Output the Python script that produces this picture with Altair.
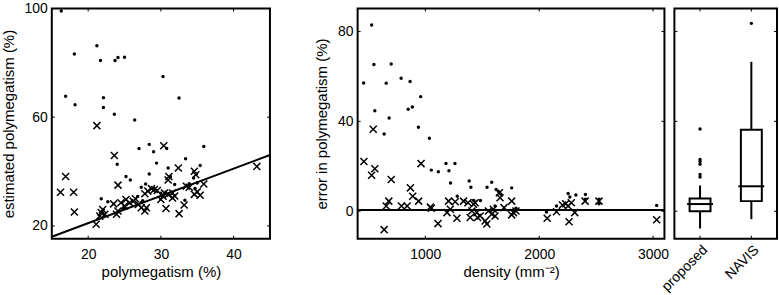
import altair as alt
import pandas as pd

FONT = "Liberation Sans"
XPATH = "M-1,-1L1,1M-1,1L1,-1"

# ---------------- panel 1 data ----------------
dot1_x = [16.3, 18.1, 21.2, 21.7, 23.7, 24.1, 25.0, 30.3, 16.9, 18.2, 22.1, 22.1, 23.6, 26.4,
          32.5, 27.0, 28.4, 29.0, 30.8, 35.9, 24.0, 29.4, 33.4, 28.4, 25.2, 25.8, 31.0, 31.3,
          31.9, 27.9, 27.3, 21.8, 22.7, 26.8, 35.4, 34.5, 35.0, 33.3, 33.9, 34.7, 30.0, 24.9, 27.5]
dot1_y = [99.1, 83.3, 86.3, 80.9, 80.9, 82.0, 82.1, 75.0, 67.7, 64.6, 67.2, 63.6, 61.1, 59.0,
          67.1, 48.5, 50.0, 47.3, 48.5, 49.2, 42.7, 43.1, 44.7, 39.1, 38.2, 36.9, 41.3, 38.2,
          35.2, 35.4, 34.2, 30.0, 28.9, 30.8, 42.2, 37.6, 35.8, 29.4, 35.5, 33.8, 32.0, 26.8, 29.3]
crs1_x = [16.2, 16.9, 18.0, 18.1, 21.2, 30.4, 23.6, 24.1, 31.1, 28.2, 28.7, 29.1, 27.8, 30.5,
          31.0, 31.6, 23.5, 25.2, 25.7, 25.0, 26.2, 26.9, 27.3, 27.8, 28.0, 21.8, 21.6, 22.3,
          21.1, 23.9, 24.1, 30.7, 30.0, 30.3, 43.2, 32.4, 34.6, 34.8, 33.5, 33.9, 35.9, 34.6,
          35.4, 35.0, 31.9, 31.6, 33.2, 32.5, 22.0, 29.5, 26.5, 24.5, 31.0]
crs1_y = [32.4, 38.2, 32.4, 25.1, 56.9, 49.5, 45.9, 35.0, 38.2, 32.8, 33.7, 33.4, 31.8, 32.1,
          31.6, 32.1, 28.1, 29.7, 28.5, 27.3, 29.1, 27.9, 26.7, 25.5, 26.7, 24.9, 23.6, 24.3,
          20.6, 24.3, 25.5, 26.4, 29.7, 30.9, 41.9, 41.3, 40.1, 38.8, 34.6, 34.2, 35.4, 31.6,
          31.3, 32.5, 31.0, 30.3, 27.7, 24.5, 26.0, 33.0, 30.0, 28.5, 36.9]
fit_x = [15, 45]
fit_y = [16.0, 46.1]
p1_xticks = [20, 30, 40]
p1_yticks = [20, 60, 100]

# ---------------- panel 2 data ----------------
dot2_x = [528, 548, 700, 458, 656, 787, 866, 959, 556, 849, 886, 682, 939, 638, 1035, 1052,
          1114, 1181, 1260, 1207, 1221, 1385, 1400, 1542, 1583, 1280, 1426, 1484, 1621, 1641,
          1662, 1758, 1612, 1773, 1796, 2064, 2152, 2254, 2269, 2322, 2406, 2406, 2525, 2525, 3032]
dot2_y = [82.9, 65.3, 65.5, 57.1, 57.0, 59.2, 57.7, 51.0, 44.7, 45.4, 46.4, 41.5, 37.4, 34.4,
          32.5, 18.3, 17.6, 21.2, 21.2, 18.0, 12.6, 13.5, 10.7, 10.7, 12.9, 6.7, 4.8, 4.8, 9.7,
          8.9, 7.7, 10.4, 2.3, 0.1, 1.3, -0.3, 2.3, 7.9, 6.3, 7.2, 7.5, 5.3, 5.3, 3.3, 2.6]
crs2_x = [542, 460, 556, 528, 700, 962, 869, 889, 941, 656, 679, 790, 840, 1044, 1052, 1204,
          1262, 1190, 1219, 1277, 1111, 638, 1335, 1374, 1409, 1452, 1481, 1525, 1540, 1423,
          1437, 1554, 1583, 1597, 1394, 1458, 1650, 1656, 1691, 1758, 1758, 1773, 1796, 1612,
          2070, 2152, 2204, 2233, 2282, 2254, 2262, 2312, 2403, 2525, 3032]
crs2_y = [36.5, 22.1, 18.9, 16.0, 14.1, 21.2, 10.4, 6.7, 4.5, 2.3, 4.5, 2.3, 2.3, 1.9, 1.3, 4.5,
          4.2, -0.6, 0.9, -3.1, -5.5, -8.2, 4.5, 3.8, 0.1, -0.6, -2.1, -4.3, -5.7, 3.1,
          3.8, 0.1, -1.3, 0.9, -2.8, -2.8, 8.2, 6.0, 1.6, 4.5, -1.6, -0.6, 0.1, -2.1,
          -3.1, -0.2, 2.8, 3.3, 3.8, 2.3, -4.7, -0.6, 4.5, 4.5, -3.8]
zero_x = [405, 3100]
zero_y = [0.6, 0.6]
p2_xticks = [1000, 2000, 3000]
p2_yticks = [0, 40, 80]

# ---------------- panel 3 data ----------------
box_cat = ["proposed", "NAVIS"]
box_lo = [-7.7, -3.5]
box_q1 = [0.0, 4.5]
box_med = [3.2, 11.1]
box_q3 = [5.7, 36.3]
box_hi = [11.5, 66.5]
out_cat = ["proposed"] * 6 + ["NAVIS"]
out_val = [15.2, 16.4, 20.9, 22.1, 23.0, 36.6, 83.6]

H = 231
W1, W2, W3 = 219, 308, 103
TK = 3  # inward tick length
DOT = 12
CROSS = 50


def ax_x(values, title, lp=8.5):
    return alt.Axis(values=values, title=title, labelPadding=lp, titlePadding=3.5, format="d")


def ax_y(values, title):
    return alt.Axis(values=values, title=title, labelPadding=4.5, titlePadding=8, format="d")


def scatter_panel(dx, dy, cx, cy, lx, ly, xdom, ydom, xt, yt, xtitle, ytitle, W):
    xs = alt.Scale(domain=xdom, nice=False, zero=False)
    ys = alt.Scale(domain=ydom, nice=False, zero=False)
    axx = ax_x(xt, xtitle)
    axy = ax_y(yt, ytitle)
    X = lambda f: alt.X(f, scale=xs, axis=axx)
    Y = lambda f: alt.Y(f, scale=ys, axis=axy)
    dots = alt.Chart(pd.DataFrame({"x": dx, "y": dy})).mark_point(
        shape="circle", filled=True, size=DOT, color="black", opacity=1
    ).encode(x=X("x:Q"), y=Y("y:Q"))
    crosses = alt.Chart(pd.DataFrame({"x": cx, "y": cy})).mark_point(
        shape=XPATH, filled=False, size=CROSS, stroke="black", strokeWidth=1.5, opacity=1
    ).encode(x=X("x:Q"), y=Y("y:Q"))
    line = alt.Chart(pd.DataFrame({"x": lx, "y": ly})).mark_line(
        color="black", strokeWidth=2
    ).encode(x=X("x:Q"), y=Y("y:Q"))
    tdx = pd.DataFrame({"x": xt})
    tdy = pd.DataFrame({"y": yt})
    tx_top = alt.Chart(tdx).mark_rule(color="black", strokeWidth=1).encode(
        x=X("x:Q"), y=alt.value(0), y2=alt.value(TK))
    tx_bot = alt.Chart(tdx).mark_rule(color="black", strokeWidth=1).encode(
        x=X("x:Q"), y=alt.value(H - TK), y2=alt.value(H))
    ty_l = alt.Chart(tdy).mark_rule(color="black", strokeWidth=1).encode(
        y=Y("y:Q"), x=alt.value(0), x2=alt.value(TK))
    ty_r = alt.Chart(tdy).mark_rule(color="black", strokeWidth=1).encode(
        y=Y("y:Q"), x=alt.value(W - TK), x2=alt.value(W))
    return alt.layer(dots, crosses, line, tx_top, tx_bot, ty_l, ty_r).properties(width=W, height=H)


p1 = scatter_panel(dot1_x, dot1_y, crs1_x, crs1_y, fit_x, fit_y, [15, 45], [15.3, 100],
                   p1_xticks, p1_yticks, "polymegatism (%)", "estimated polymegatism (%)", W1)
p2 = scatter_panel(dot2_x, dot2_y, crs2_x, crs2_y, zero_x, zero_y, [405, 3100], [-12.2, 90.2],
                   p2_xticks, p2_yticks, "density (mm\u207b\u00b2)", "error in polymegatism (%)", W2)

# ---------------- panel 3: box plot ----------------
xs3 = alt.Scale(type="point", padding=0.5, domain=box_cat)
ys3 = alt.Scale(domain=[-12.2, 90.2], nice=False, zero=False)
ax3 = alt.Axis(title=None, labelAngle=315, labelAlign="right", labelBaseline="top", labelPadding=4)
X3 = alt.X("cat:N", scale=xs3, axis=ax3, sort=box_cat)
Y3 = lambda f: alt.Y(f, scale=ys3, axis=None)

bdf = pd.DataFrame({"cat": box_cat, "lo": box_lo, "q1": box_q1, "med": box_med,
                    "q3": box_q3, "hi": box_hi})
odf = pd.DataFrame({"cat": out_cat, "v": out_val})

wl = alt.Chart(bdf).mark_rule(color="black", strokeWidth=2).encode(x=X3, y=Y3("lo:Q"), y2="q1:Q")
wh = alt.Chart(bdf).mark_rule(color="black", strokeWidth=2).encode(x=X3, y=Y3("q3:Q"), y2="hi:Q")
box = alt.Chart(bdf).mark_bar(fill="white", stroke="black", strokeWidth=2, size=21, opacity=1).encode(
    x=X3, y=Y3("q1:Q"), y2="q3:Q")
med = alt.Chart(bdf).mark_tick(color="black", size=26, thickness=2, orient="horizontal", opacity=1).encode(
    x=X3, y=Y3("med:Q"))
outl = alt.Chart(odf).mark_point(shape="circle", filled=True, size=DOT, color="black", opacity=1).encode(
    x=X3, y=Y3("v:Q"))
t3y = pd.DataFrame({"y": p2_yticks})
t3x = pd.DataFrame({"cat": box_cat})
t3_l = alt.Chart(t3y).mark_rule(color="black", strokeWidth=1).encode(
    y=Y3("y:Q"), x=alt.value(0), x2=alt.value(TK))
t3_r = alt.Chart(t3y).mark_rule(color="black", strokeWidth=1).encode(
    y=Y3("y:Q"), x=alt.value(W3 - TK), x2=alt.value(W3))
t3_t = alt.Chart(t3x).mark_rule(color="black", strokeWidth=1).encode(
    x=X3, y=alt.value(0), y2=alt.value(TK))
t3_b = alt.Chart(t3x).mark_rule(color="black", strokeWidth=1).encode(
    x=X3, y=alt.value(H - TK), y2=alt.value(H))
p3 = alt.layer(wl, wh, box, med, outl, t3_l, t3_r, t3_t, t3_b).properties(width=W3, height=H)

right = alt.hconcat(p2, p3, spacing=10, bounds="flush")
chart = alt.hconcat(p1, right, spacing=88, bounds="flush").properties(
    padding={"left": 0, "top": 0, "right": 0, "bottom": 0}
).configure_view(
    stroke="black", strokeWidth=2
).configure_axis(
    ticks=False, domain=False, grid=False,
    labelFont=FONT, labelFontSize=14, labelColor="black",
    titleFont=FONT, titleFontSize=15, titleFontWeight="normal", titleColor="black"
)

chart.save("out.html", embed_options={"renderer": "svg", "actions": False})
